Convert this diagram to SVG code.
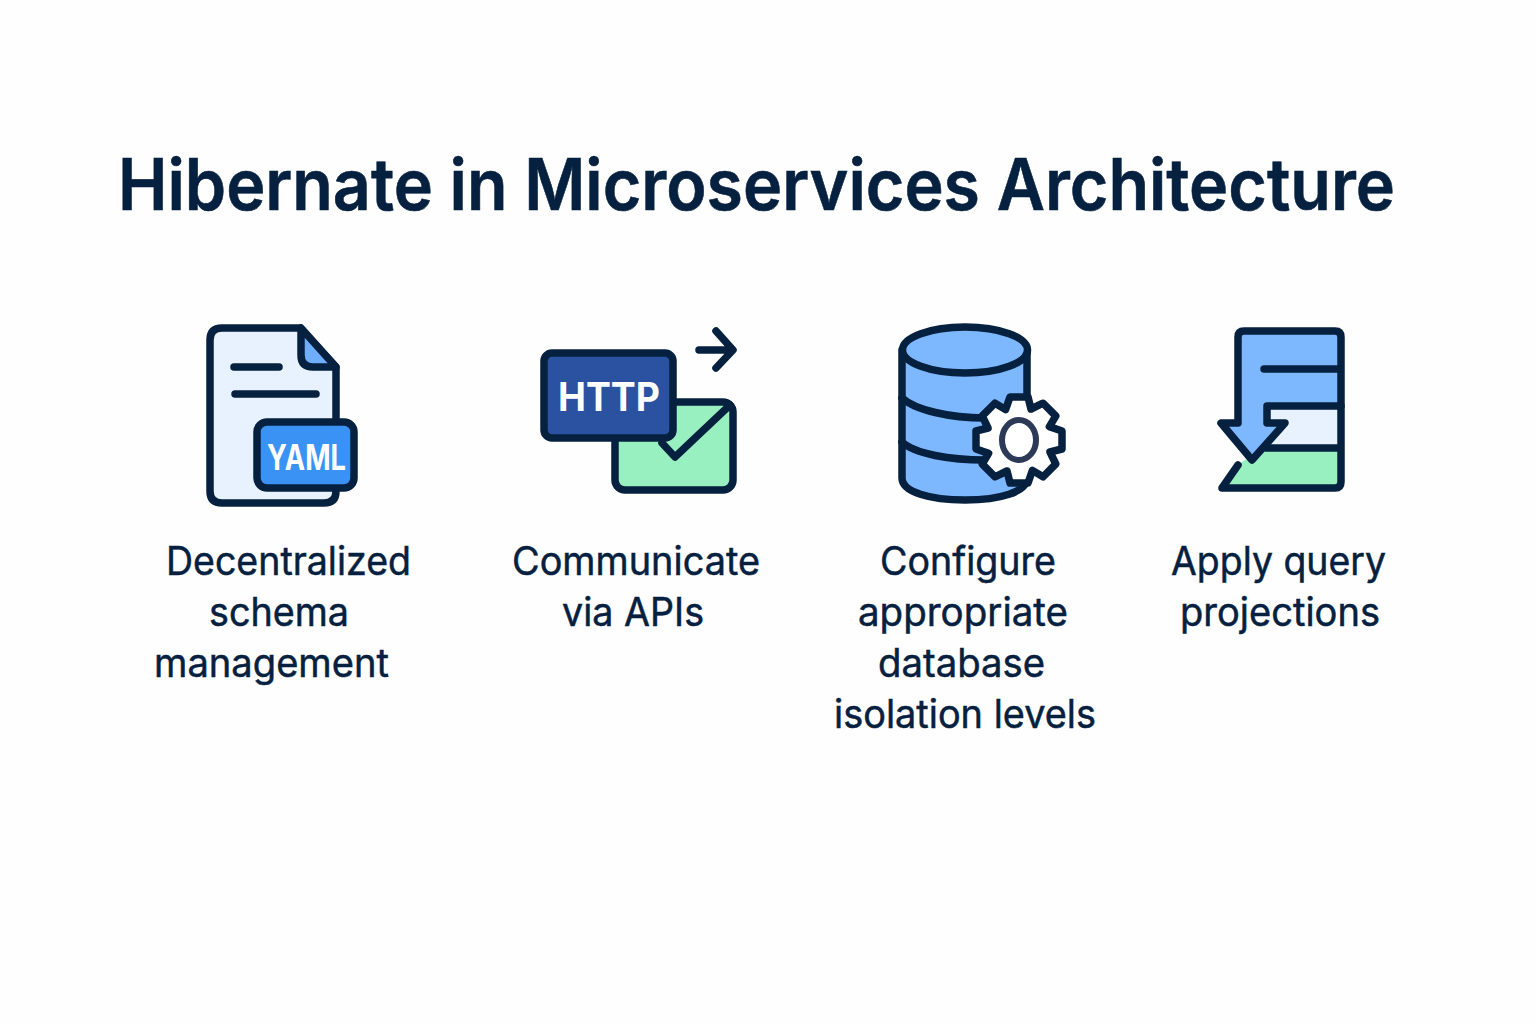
<svg xmlns="http://www.w3.org/2000/svg" width="1536" height="1024" viewBox="0 0 1536 1024">
<style>
.o{stroke:#06203f;stroke-width:7.500;stroke-linejoin:round;stroke-linecap:round}
.n{fill:none}
.t{font-family:"Inter","Liberation Sans",sans-serif;fill:#06203f}
.l{font-size:39px;font-weight:400;stroke:#06203f;stroke-width:.5}
.h{font-size:71px;font-weight:600;stroke:#06203f;stroke-width:.6}
.w{font-family:"Inter","Liberation Sans",sans-serif;fill:#fff;font-weight:700}
</style>
<rect width="1536" height="1024" fill="#fefefe"/>
<g id="title"><text class="t h" x="118" y="210" textLength="1277" lengthAdjust="spacingAndGlyphs">Hibernate in Microservices Architecture</text></g>
<g id="node-schema">
<path class="o" fill="#e7f2fe" d="M222,328H300L336,367V491Q336,503 324,503H222Q210,503 210,491V340Q210,328 222,328Z"/>
<path class="o" fill="#6eaefc" d="M301,328V355Q301,367 313,367H336Z"/>
<path class="o n" d="M234,367H279M235,394H316"/>
<rect class="o" fill="#3a92f5" x="257" y="422" width="97" height="66" rx="10"/>
<text class="w" x="267" y="470" font-size="35" textLength="79" lengthAdjust="spacingAndGlyphs">YAML</text>
<text class="t l" x="166" y="575" textLength="245" lengthAdjust="spacingAndGlyphs">Decentralized</text>
<text class="t l" x="209" y="626" textLength="140" lengthAdjust="spacingAndGlyphs">schema</text>
<text class="t l" x="154" y="677" textLength="235" lengthAdjust="spacingAndGlyphs">management</text>
</g>
<g id="node-apis">
<rect class="o" fill="#98f0c0" x="615" y="402" width="118" height="88" rx="10"/>
<path class="o n" d="M662,443L675,457L730,405"/>
<rect class="o" fill="#2a52a0" x="544" y="353" width="129" height="85" rx="8"/>
<text class="w" x="558" y="411" font-size="39" textLength="102" lengthAdjust="spacingAndGlyphs">HTTP</text>
<path class="o n" d="M699,350H732M716,331L733,350L716,368"/>
<text class="t l" x="512" y="575" textLength="248" lengthAdjust="spacingAndGlyphs">Communicate</text>
<text class="t l" x="562" y="626" textLength="142" lengthAdjust="spacingAndGlyphs">via APIs</text>
</g>
<g id="node-database">
<path class="o" fill="#7db8ff" d="M902,350V478C902,492 930,500 965,500C1000,500 1027,492 1027,478V350Z"/>
<ellipse class="o" fill="#7db8ff" cx="965" cy="350" rx="62.500" ry="23"/>
<path class="o n" d="M902,398C915,410 950,418 985,418M902,442C915,454 950,460 985,460"/>
<path class="o" fill="#fff" d="M1010,397L1028,397L1031,409L1043,403.200L1055.800,416L1049.400,426.600L1062,431L1062,449L1050,452L1055.800,464L1043,476.800L1032.400,470.400L1028,483L1010,483L1007,471L995,476.800L982.200,464L988.600,453.400L976,449L976,431L988,428L982.200,416L995,403.200L1005.600,409.600Z"/>
<ellipse fill="none" stroke="#2c3a58" stroke-width="6" cx="1019" cy="440" rx="17" ry="20"/>
<text class="t l" x="880" y="575" textLength="176" lengthAdjust="spacingAndGlyphs">Configure</text>
<text class="t l" x="858" y="626" textLength="210" lengthAdjust="spacingAndGlyphs">appropriate</text>
<text class="t l" x="878" y="677" textLength="167" lengthAdjust="spacingAndGlyphs">database</text>
<text class="t l" x="834" y="728" textLength="262" lengthAdjust="spacingAndGlyphs">isolation levels</text>
</g>
<g id="node-query">
<rect fill="#e7f2fe" x="1260" y="406" width="81" height="42"/>
<path fill="#98f0c0" d="M1222,488L1240,463L1265,448H1341V488Z"/>
<path class="o" fill="#7db8ff" d="M1238,423V337Q1238,331 1244,331H1335Q1341,331 1341,337V406H1267V423H1285L1252,460L1221,423Z"/>
<path class="o n" d="M1264,369H1338M1266,448H1338M1341,406V482Q1341,488 1335,488H1222L1238,465"/>
<text class="t l" x="1171" y="575" textLength="215" lengthAdjust="spacingAndGlyphs">Apply query</text>
<text class="t l" x="1180" y="626" textLength="200" lengthAdjust="spacingAndGlyphs">projections</text>
</g>
</svg>
